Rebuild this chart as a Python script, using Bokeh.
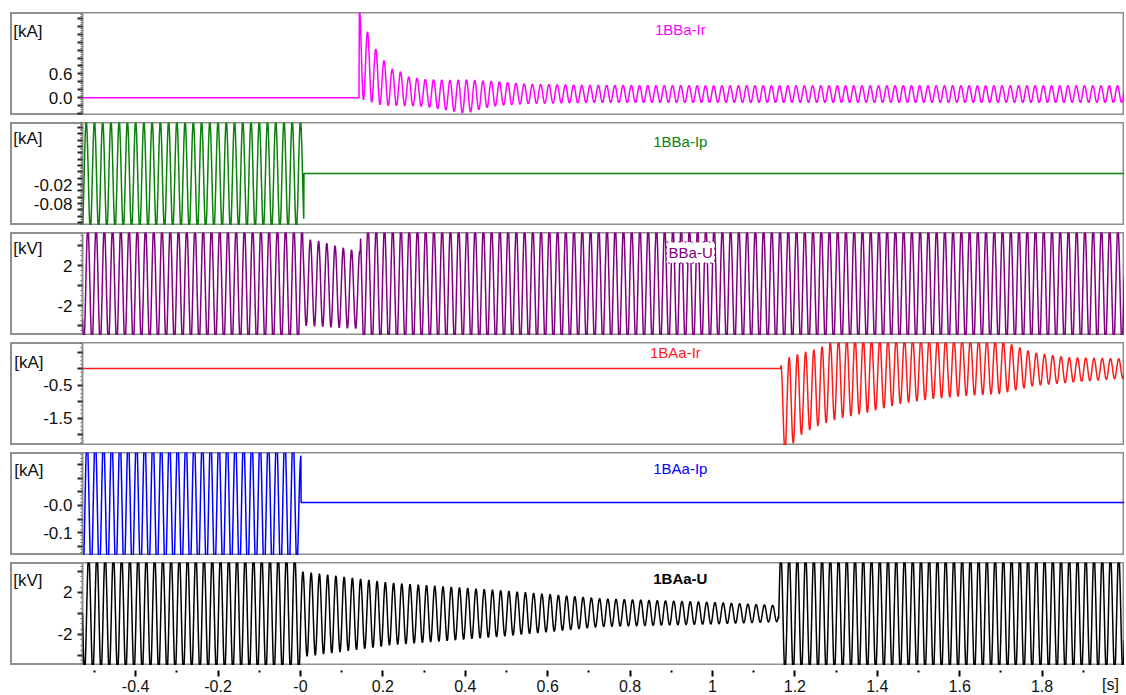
import numpy as np
from bokeh.plotting import figure
from bokeh.models import Range1d, FixedTicker, Label, Spacer, LinearAxis
from bokeh.layouts import column, row
from bokeh.embed import file_html
from bokeh.resources import INLINE

# ---------------- data ----------------
FREQ_HZ = 50.0                      # mains frequency of all traces
SAMPLE_STEP = 0.0005                # s
T_START, T_END = -0.529, 2.0        # s

# envelope readings (time [s], upper peak, lower peak) for each trace
ir_bb_t  = [-0.529, 0.142, 0.143, 0.163, 0.183, 0.203, 0.223, 0.243, 0.263, 0.30, 0.36, 0.40, 0.45, 0.48, 0.55, 0.70, 1.00, 1.50, 2.00]
ir_bb_hi = [0.0, 0.0, 2.3, 1.65, 1.22, 0.93, 0.72, 0.65, 0.52, 0.46, 0.44, 0.45, 0.42, 0.40, 0.34, 0.31, 0.30, 0.30, 0.30]
ir_bb_lo = [0.0, 0.0, -0.02, -0.08, -0.15, -0.20, -0.20, -0.20, -0.20, -0.22, -0.32, -0.40, -0.25, -0.20, -0.15, -0.12, -0.12, -0.12, -0.12]

ip_bb_t  = [-0.529, 0.0, 0.008, 0.0085, 2.0]
ip_bb_hi = [0.18, 0.18, 0.18, 0.0147, 0.0147]
ip_bb_lo = [-0.16, -0.16, -0.16, 0.0147, 0.0147]

u_bb_t  = [-0.529, 0.005, 0.006, 0.05, 0.09, 0.13, 0.145, 0.146, 2.0]
u_bb_hi = [5.8, 5.8, 4.7, 4.4, 3.9, 3.5, 3.4, 5.8, 5.8]
u_bb_lo = [-5.8, -5.8, -4.0, -4.1, -4.2, -4.3, -4.3, -5.8, -5.8]

ir_ba_t  = [-0.529, 1.165, 1.166, 1.177, 1.218, 1.257, 1.303, 1.376, 1.456, 1.536, 1.619, 1.699, 1.779, 1.862, 1.983, 2.0]
ir_ba_hi = [0.0, 0.0, 0.09, 0.30, 0.48, 0.60, 0.90, 0.90, 0.90, 0.90, 0.90, 0.85, 0.48, 0.33, 0.30, 0.30]
ir_ba_lo = [0.0, 0.0, -2.5, -2.5, -1.97, -1.73, -1.52, -1.33, -1.06, -0.91, -0.82, -0.76, -0.52, -0.42, -0.30, -0.30]

ip_ba_t  = [-0.529, -0.01, 0.001, 0.0015, 2.0]
ip_ba_hi = [0.25, 0.25, 0.19, 0.011, 0.011]
ip_ba_lo = [-0.25, -0.25, -0.05, 0.011, 0.011]

u_ba_t  = [-0.529, 0.0, 0.001, 0.22, 0.48, 0.73, 1.00, 1.16, 1.161, 2.0]
u_ba_hi = [5.6, 5.6, 4.0, 2.9, 2.2, 1.4, 1.05, 0.75, 5.6, 5.6]
u_ba_lo = [-5.6, -5.6, -4.15, -3.0, -2.2, -1.25, -1.0, -0.78, -5.6, -5.6]

trace_names = ["1BBa-Ir", "1BBa-Ip", "BBa-U", "1BAa-Ir", "1BAa-Ip", "1BAa-U"]
trace_units = ["[kA]", "[kA]", "[kV]", "[kA]", "[kA]", "[kV]"]
trace_phase_ref = [0.143, 0.0, 0.004, 1.166, 0.002, 0.006]

x_ticks = [-0.4, -0.2, 0.0, 0.2, 0.4, 0.6, 0.8, 1.0, 1.2, 1.4, 1.6, 1.8]
x_tick_labels = ["-0.4", "-0.2", "-0", "0.2", "0.4", "0.6", "0.8", "1", "1.2", "1.4", "1.6", "1.8"]
x_minor = [-0.5, -0.3, -0.1, 0.1, 0.3, 0.5, 0.7, 0.9, 1.1, 1.3, 1.5, 1.7, 1.9]
x_unit, x_unit_pos = "[s]", 1.966

y_ranges = [(-0.45, 2.15), (-0.149, 0.176), (-5.0, 5.3), (-2.33, 0.79), (-0.185, 0.196), (-4.95, 4.85)]
y_majors = [
    [-0.4, -0.2, 0.0, 0.2, 0.4, 0.6, 0.8, 1.0, 1.2, 1.4, 1.6, 1.8, 2.0],
    [-0.14, -0.12, -0.1, -0.08, -0.06, -0.04, -0.02, 0.0, 0.02, 0.04, 0.06, 0.08, 0.1, 0.12, 0.14, 0.16],
    [-4.0, -2.0, 0.0, 2.0, 4.0],
    [-2.0, -1.5, -1.0, -0.5, 0.0, 0.5],
    [-0.15, -0.1, -0.05, 0.0, 0.05, 0.1, 0.15],
    [-4.0, -2.0, 0.0, 2.0, 4.0],
]
y_labels = [
    {0.0: "0.0", 0.6: "0.6"},
    {-0.02: "-0.02", -0.08: "-0.08"},
    {2.0: "2", -2.0: "-2"},
    {-0.5: "-0.5", -1.5: "-1.5"},
    {0.0: "-0.0", -0.1: "-0.1"},
    {2.0: "2", -2.0: "-2"},
]
name_pos = [(0.922, 1.72), (0.922, 0.116), (0.947, 3.3), (0.91, 0.485), (0.922, 0.137), (0.922, 3.3)]

envelopes = [
    (ir_bb_t, ir_bb_hi, ir_bb_lo),
    (ip_bb_t, ip_bb_hi, ip_bb_lo),
    (u_bb_t, u_bb_hi, u_bb_lo),
    (ir_ba_t, ir_ba_hi, ir_ba_lo),
    (ip_ba_t, ip_ba_hi, ip_ba_lo),
    (u_ba_t, u_ba_hi, u_ba_lo),
]

# ---------------- styling ----------------
colors = ["#ff00ff", "#0a820a", "#800080", "#ff1a1a", "#0000ff", "#000000"]
FONT = "Liberation Sans"
W = 1122
PANEL_H = 103
LEFT = 80
BOX = "#8e8e8e"
BOX_INSET = 8                        # box starts this many px inside the figure
TICK_FS = 17
UNIT_FS = 17
TICK_OUT, TICK_GAP = 5, 5
UNIT_LEFT = 14                       # px from the figure edge
UNIT_DOWN = [19, 16, 16, 20, 18, 18]  # px from the panel top to the unit text centre
ADV = {"-": 0.333, ".": 0.278, "[": 0.278, "]": 0.278, "k": 0.5, "A": 0.667, "V": 0.667}

_g = f"linear-gradient({BOX}, {BOX})"
BOX_CSS = ", ".join([
    f"{_g} {BOX_INSET}px 0 / calc(100% - {BOX_INSET}px) 2px no-repeat",
    f"{_g} {BOX_INSET}px 100% / calc(100% - {BOX_INSET}px) 2px no-repeat",
    f"{_g} {BOX_INSET}px 0 / 2px 100% no-repeat",
    f"{_g} 100% 0 / 2px 100% no-repeat",
])


def text_w(s, fs):
    return sum(ADV.get(c, 0.556) for c in s) * fs


t = np.arange(T_START, T_END, SAMPLE_STEP)
xr = Range1d(T_START, T_END)


def trace(env, t_ref):
    et, hi, lo = env
    h = np.interp(t, et, hi)
    l = np.interp(t, et, lo)
    return (h + l) / 2 + (h - l) / 2 * np.cos(2 * np.pi * FREQ_HZ * (t - t_ref))


panels = []
for i in range(6):
    y0, y1 = y_ranges[i]
    p = figure(width=W, height=PANEL_H, x_range=xr, y_range=Range1d(y0, y1),
               output_backend="svg", toolbar_location=None,
               min_border_left=LEFT, min_border_right=0, min_border_top=0, min_border_bottom=0,
               styles={"background": BOX_CSS})
    p.xaxis.visible = False
    p.grid.visible = False
    p.outline_line_color = BOX
    p.outline_line_width = 2
    p.background_fill_color = "white"
    p.border_fill_color = None

    y = trace(envelopes[i], trace_phase_ref[i])
    p.line(t, y, line_color=colors[i], line_width=1.5)

    ax = p.yaxis[0]
    step = y_majors[i][1] - y_majors[i][0]
    minors = list(np.arange(y_majors[i][0] - step, y_majors[i][-1] + step, step / 4))
    ax.ticker = FixedTicker(ticks=y_majors[i], minor_ticks=minors)
    ax.major_label_overrides = {v: y_labels[i].get(v, "") for v in y_majors[i]}
    ax.axis_line_color = None
    ax.major_tick_in = 0
    ax.major_tick_out = TICK_OUT
    ax.major_tick_line_width = 2
    ax.major_tick_line_color = "#222222"
    ax.minor_tick_in = 0
    ax.minor_tick_out = 2
    ax.minor_tick_line_color = "#444444"
    ax.minor_tick_line_dash = "1 1"
    ax.major_label_standoff = TICK_GAP
    ax.major_label_text_font = FONT
    ax.major_label_text_font_size = f"{TICK_FS}px"
    ax.major_label_text_color = "#111111"

    # unit label: an outer axis whose one tick label sits at the top-left of the box
    axis_w = TICK_OUT + TICK_GAP + max(text_w(s, TICK_FS) for s in y_labels[i].values())
    unit_w = text_w(trace_units[i], UNIT_FS)
    unit_v = y1 - UNIT_DOWN[i] * (y1 - y0) / PANEL_H
    ua = LinearAxis(ticker=FixedTicker(ticks=[unit_v], minor_ticks=[]))
    ua.major_label_overrides = {unit_v: trace_units[i]}
    ua.axis_line_color = None
    ua.major_tick_line_color = None
    ua.major_tick_in = 0
    ua.major_tick_out = 0
    ua.minor_tick_line_color = None
    ua.major_label_standoff = int(round(LEFT - UNIT_LEFT - unit_w - axis_w))
    ua.major_label_text_font = FONT
    ua.major_label_text_font_size = f"{UNIT_FS}px"
    ua.major_label_text_color = "#111111"
    p.add_layout(ua, "left")

    nx, ny = name_pos[i]
    kw = {}
    if i == 2:
        kw = dict(background_fill_color="white", border_line_color="#800080",
                  border_line_dash="dotted", padding=2)
    p.add_layout(Label(x=nx, y=ny, text=trace_names[i], text_font=FONT, text_font_size="15px",
                       text_align="center", text_baseline="middle", text_color=colors[i],
                       text_font_style="bold" if i == 5 else "normal", **kw))
    panels.append(p)

fx = figure(width=W, height=30, x_range=xr, y_range=Range1d(0, 1),
            output_backend="svg", toolbar_location=None,
            min_border_left=LEFT, min_border_right=0, min_border_top=0, min_border_bottom=0)
fx.yaxis.visible = False
fx.grid.visible = False
fx.outline_line_color = None
fx.border_fill_color = None
xa = fx.xaxis[0]
xa.ticker = FixedTicker(ticks=x_ticks, minor_ticks=x_minor)
xa.major_label_overrides = dict(zip(x_ticks, x_tick_labels))
xa.axis_line_color = None
xa.major_tick_in = 0
xa.major_tick_out = 6
xa.major_tick_line_width = 2
xa.minor_tick_in = 0
xa.minor_tick_out = 2
xa.minor_tick_line_width = 2
xa.major_label_standoff = 3
xa.major_label_text_font = FONT
xa.major_label_text_font_size = "16px"
xa.major_label_text_color = "#111111"

xl = LinearAxis(ticker=FixedTicker(ticks=[x_unit_pos], minor_ticks=[]))
xl.major_label_overrides = {x_unit_pos: x_unit}
xl.axis_line_color = None
xl.major_tick_line_color = None
xl.major_tick_in = 0
xl.major_tick_out = 0
xl.minor_tick_line_color = None
xl.major_label_standoff = -19
xl.major_label_text_font = FONT
xl.major_label_text_font_size = "16px"
xl.major_label_text_color = "#111111"
fx.add_layout(xl, "below")

layout = row(Spacer(width=2, height=10),
             column(Spacer(height=12, width=W), column(*panels, spacing=7), fx, spacing=0),
             spacing=0)

open("out.html", "w").write(file_html(layout, INLINE))
